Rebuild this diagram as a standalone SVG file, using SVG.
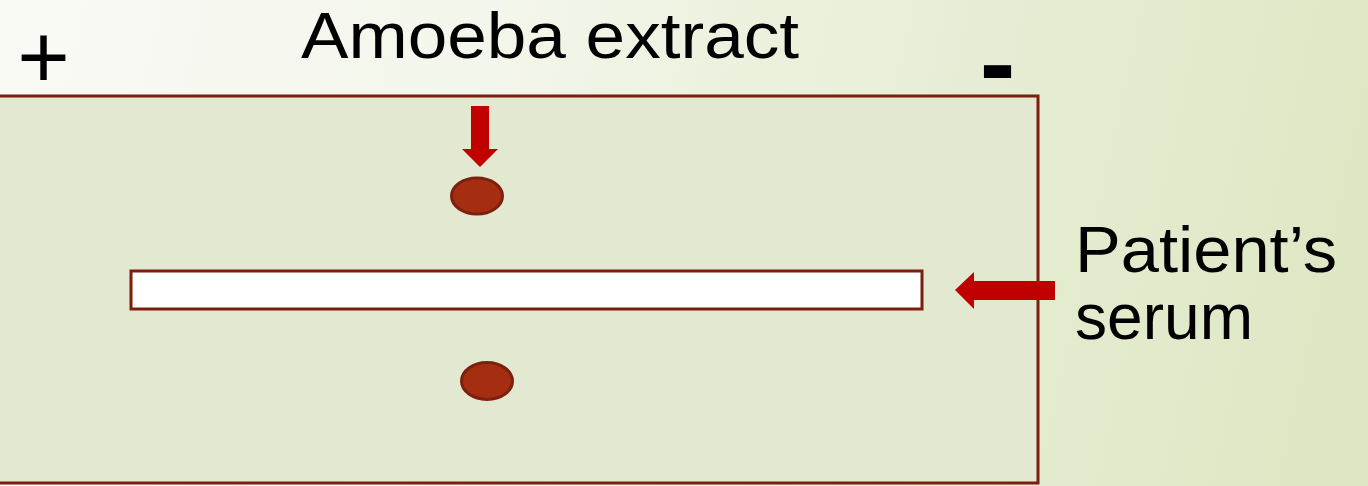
<svg xmlns="http://www.w3.org/2000/svg" width="1368" height="486" viewBox="0 0 1368 486">
  <defs>
    <linearGradient id="bg" x1="0" y1="0" x2="1368" y2="300" gradientUnits="userSpaceOnUse">
      <stop offset="0" stop-color="#f9faf5"/>
      <stop offset="0.35" stop-color="#f3f6ea"/>
      <stop offset="0.7" stop-color="#e6edd4"/>
      <stop offset="1" stop-color="#dde7c3"/>
    </linearGradient>
    <style>
      .lbl { font-family: "Liberation Sans", Arial, sans-serif; fill: #000; }
      .arrow { fill: #c00000; }
      .spot { fill: #a52e10; stroke: #7e2010; stroke-width: 3; }
    </style>
  </defs>
  <rect x="0" y="0" width="1368" height="486" fill="url(#bg)"/>

  <g id="gel">
    <rect x="-2" y="96" width="1040" height="387" fill="#e3e9d0" stroke="#7a1f0e" stroke-width="3"/>
  </g>
  <g id="trough">
    <rect x="131" y="271" width="791" height="38" fill="#ffffff" stroke="#7a1f0e" stroke-width="3"/>
  </g>
  <g id="well-top">
    <ellipse cx="477" cy="196" rx="25.5" ry="18" class="spot"/>
  </g>
  <g id="well-bottom">
    <ellipse cx="487" cy="381" rx="25.5" ry="18.5" class="spot"/>
  </g>

  <g id="label-amoeba">
    <text class="lbl" x="301" y="58" font-size="64" textLength="498" lengthAdjust="spacingAndGlyphs">Amoeba extract</text>
  </g>
  <g id="label-serum">
    <text class="lbl" x="1075" y="272" font-size="64" textLength="262" lengthAdjust="spacingAndGlyphs">Patient’s</text>
    <text class="lbl" x="1075" y="339" font-size="64" textLength="178" lengthAdjust="spacingAndGlyphs">serum</text>
  </g>
  <g id="plus">
    <text class="lbl" x="43.5" y="88" font-size="90" text-anchor="middle">+</text>
  </g>
  <g id="minus">
    <text class="lbl" x="997.5" y="100" font-size="107" font-weight="bold" text-anchor="middle">-</text>
  </g>

  <g id="connectors">
    <polygon class="arrow" points="471,106 489,106 489,149 498,149 480,167 462,149 471,149"/>
    <polygon class="arrow" points="1055,281 1055,300 974,300 974,309 955,290 974,272 974,281"/>
  </g>
</svg>
